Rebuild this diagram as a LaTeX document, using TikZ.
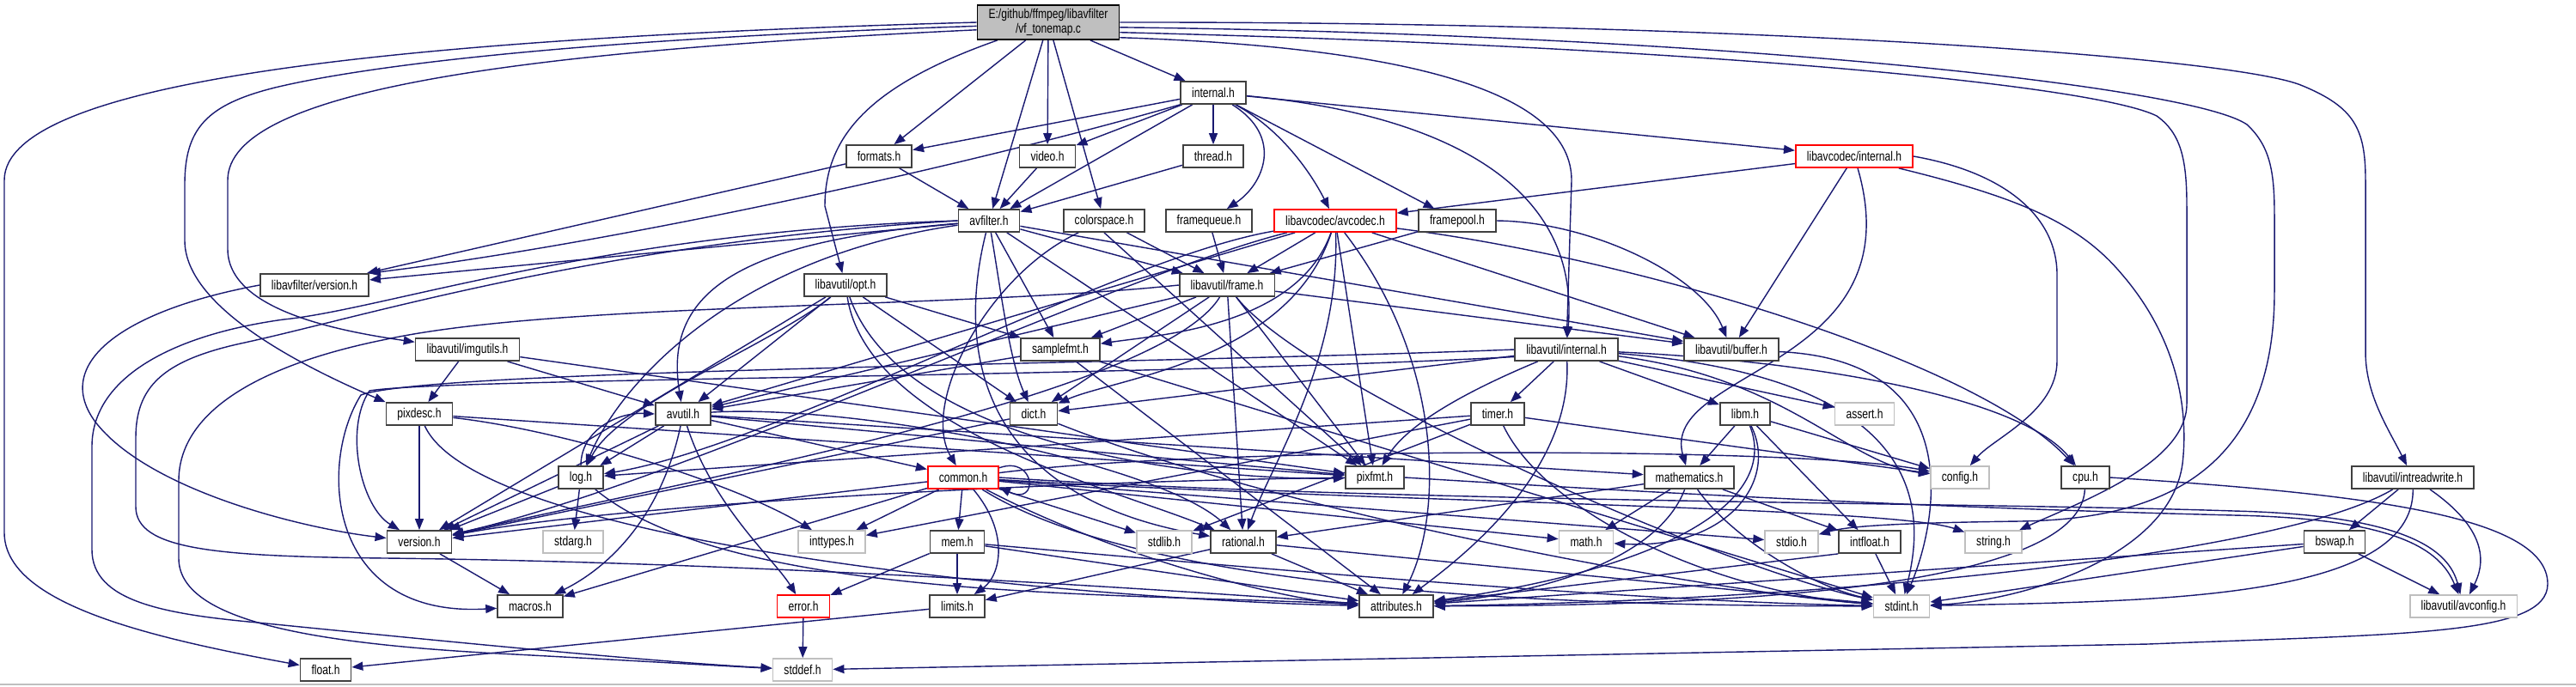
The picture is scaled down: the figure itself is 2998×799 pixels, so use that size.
\documentclass[tikz,border=0pt]{standalone}
\usepackage{fontspec}
\setmainfont{Liberation Sans}[FakeStretch=0.78]
\usepackage{tikz}
\usetikzlibrary{arrows.meta,backgrounds}
\usepackage{xcolor}
\definecolor{depblue}{HTML}{191970}
\definecolor{boxgrey}{HTML}{404040}
\definecolor{sysgrey}{HTML}{BFBFBF}
\definecolor{incred}{HTML}{FF0000}
\definecolor{srcfill}{HTML}{BFBFBF}

\begin{document}
\begin{tikzpicture}[x=0.01cm, y=-0.01cm,
  hdr/.style={draw=boxgrey, line width=0.5pt, fill=white, inner xsep=0.13cm,
    inner ysep=0pt, minimum height=0.26cm, font=\fontsize{4.41}{5}\selectfont},
  syshdr/.style={hdr, draw=sysgrey},
  redhdr/.style={hdr, draw=incred},
  srcfile/.style={hdr, draw=black, fill=srcfill, align=center, minimum height=0.40cm,
    font=\fontsize{4.41}{4.7}\selectfont},
  dep/.style={draw=depblue, line width=0.4pt, -{Triangle[length=0.13cm, width=0.1cm]}}]
\useasboundingbox (0,0) rectangle (2998,799);

% Bottom rule
\draw[sysgrey, line width=0.6pt] (0,797) -- (2998,797);

% Source file
\node[srcfile] (root) at (1220,26) {E:/github/ffmpeg/libavfilter\\/vf\_tonemap.c};

% libavfilter headers
\node[hdr] (lfint) at (1412,108) {internal.h};
\node[hdr] (formats) at (1023,182) {formats.h};
\node[hdr] (video) at (1219,182) {video.h};
\node[hdr] (thread) at (1412,182) {thread.h};
\node[redhdr] (lcint) at (2158,182) {libavcodec/internal.h};
\node[hdr] (avfilter) at (1151,257) {avfilter.h};
\node[hdr] (colorspace) at (1285,257) {colorspace.h};
\node[hdr] (framequeue) at (1407,257) {framequeue.h};
\node[redhdr] (avcodec) at (1554,257) {libavcodec/avcodec.h};
\node[hdr] (framepool) at (1696,257) {framepool.h};
\node[hdr] (lfver) at (366,332) {libavfilter/version.h};

% libavutil headers
\node[hdr] (opt) at (984,332) {libavutil/opt.h};
\node[hdr] (frame) at (1428,332) {libavutil/frame.h};
\node[hdr] (imgutils) at (544,407) {libavutil/imgutils.h};
\node[hdr] (samplefmt) at (1234,407) {samplefmt.h};
\node[hdr] (luint) at (1823,407) {libavutil/internal.h};
\node[hdr] (buffer) at (2015,407) {libavutil/buffer.h};
\node[hdr] (pixdesc) at (488,482) {pixdesc.h};
\node[hdr] (avutil) at (795,482) {avutil.h};
\node[hdr] (dict) at (1203,482) {dict.h};
\node[hdr] (timer) at (1743,482) {timer.h};
\node[hdr] (libm) at (2031,482) {libm.h};
\node[syshdr] (assert) at (2170,482) {assert.h};
\node[hdr] (log) at (676,556) {log.h};
\node[redhdr] (common) at (1121,556) {common.h};
\node[hdr] (pixfmt) at (1600,556) {pixfmt.h};
\node[hdr] (mathematics) at (1966,556) {mathematics.h};
\node[syshdr] (config) at (2281,556) {config.h};
\node[hdr] (cpu) at (2427,556) {cpu.h};
\node[hdr] (intreadwrite) at (2808,556) {libavutil/intreadwrite.h};
\node[hdr] (version) at (488,631) {version.h};
\node[syshdr] (stdarg) at (667,631) {stdarg.h};
\node[syshdr] (inttypes) at (968,631) {inttypes.h};
\node[hdr] (mem) at (1114,631) {mem.h};
\node[syshdr] (stdlib) at (1355,631) {stdlib.h};
\node[hdr] (rational) at (1447,631) {rational.h};
\node[syshdr] (math) at (1846,631) {math.h};
\node[syshdr] (stdio) at (2085,631) {stdio.h};
\node[hdr] (intfloat) at (2176,631) {intfloat.h};
\node[syshdr] (string) at (2320,631) {string.h};
\node[hdr] (bswap) at (2717,631) {bswap.h};
\node[hdr] (macros) at (617,706) {macros.h};
\node[redhdr] (error) at (935,706) {error.h};
\node[hdr] (limits) at (1114,706) {limits.h};
\node[hdr] (attributes) at (1625,706) {attributes.h};
\node[syshdr] (stdint) at (2213,706) {stdint.h};
\node[syshdr] (avconfig) at (2867,706) {libavutil/avconfig.h};
\node[hdr] (float) at (379,780) {float.h};
\node[syshdr] (stddef) at (934,780) {stddef.h};

\begin{scope}[on background layer]
% vf_tonemap.c
\draw[dep] (root.west) .. controls (450,45) and (5,95) .. (5,210) -- (5,620) .. controls (5,700) and (160,740) .. (float);
\draw[dep] (root.183) .. controls (600,48) and (390,85) .. (320,102) .. controls (240,122) and (215,150) .. (215,215) -- (215,280) .. controls (215,360) and (360,430) .. (pixdesc.north west);
\draw[dep] (root.186) .. controls (600,60) and (265,105) .. (265,210) -- (265,290) .. controls (265,360) and (390,385) .. (imgutils);
\draw[dep] (root) -- (formats);
\draw[dep] (root) -- (avfilter);
\draw[dep] (root) -- (video);
\draw[dep] (root) -- (colorspace);
\draw[dep] (root) -- (lfint);
\draw[dep] (root) .. controls (1010,100) and (960,160) .. (960,240) -- (opt);
\draw[dep] (root.348) .. controls (1650,55) and (1829,110) .. (1829,210) -- (luint);
\draw[dep] (root.east) .. controls (2000,25) and (2600,65) .. (2680,100) .. controls (2740,125) and (2753,150) .. (2753,210) -- (2753,410) .. controls (2753,460) and (2780,500) .. (intreadwrite);
\draw[dep] (root.356) .. controls (2000,40) and (2550,100) .. (2615,145) .. controls (2642,170) and (2647,200) .. (2647,250) -- (2647,340) .. controls (2647,560) and (2500,605) .. (2350,607) .. controls (2200,609) and (2150,613) .. (stdio);
\draw[dep] (root.352) .. controls (2000,55) and (2440,100) .. (2510,135) .. controls (2538,155) and (2545,185) .. (2545,240) -- (2545,470) .. controls (2545,540) and (2420,585) .. (string);

% internal.h
\draw[dep] (lfint) -- (formats);
\draw[dep] (lfint) -- (video);
\draw[dep] (lfint) -- (thread);
\draw[dep] (lfint) -- (avfilter);
\draw[dep] (lfint) .. controls (1495,160) and (1470,215) .. (framequeue);
\draw[dep] (lfint) .. controls (1490,150) and (1525,200) .. (avcodec);
\draw[dep] (lfint) -- (framepool);
\draw[dep] (lfint) -- (lcint);
\draw[dep] (lfint) .. controls (1650,130) and (1840,200) .. (luint);
\draw[dep] (lfint.south west) .. controls (1100,200) and (700,285) .. (lfver.north east);
\draw[dep] (formats) -- (avfilter);
\draw[dep] (formats) -- (lfver);
\draw[dep] (video) -- (avfilter);
\draw[dep] (thread) -- (avfilter);

% avfilter.h
\draw[dep] (avfilter) -- (lfver);
\draw[dep] (avfilter) .. controls (880,280) and (770,330) .. (avutil);
\draw[dep] (avfilter) .. controls (850,300) and (720,450) .. (log);
\draw[dep] (avfilter) -- (samplefmt);
\draw[dep] (avfilter) .. controls (1165,340) and (1175,420) .. (dict);
\draw[dep] (avfilter) -- (frame);
\draw[dep] (avfilter) -- (buffer);
\draw[dep] (avfilter) -- (pixfmt);
\draw[dep] (avfilter) .. controls (1110,420) and (1150,580) .. (rational);
\draw[dep] (avfilter.west) .. controls (700,270) and (450,360) .. (330,372) .. controls (200,390) and (107,440) .. (107,520) -- (107,640) .. controls (107,700) and (190,715) .. (300,725) .. controls (500,745) and (750,770) .. (stddef);
\draw[dep] (avfilter.west) .. controls (700,282) and (420,370) .. (280,400) .. controls (190,420) and (158,450) .. (158,510) -- (158,590) .. controls (158,640) and (250,648) .. (450,650) .. controls (900,655) and (1400,690) .. (attributes);

% colorspace.h, framequeue.h, framepool.h
\draw[dep] (colorspace) -- (frame);
\draw[dep] (colorspace) .. controls (1150,320) and (1070,470) .. (common);
\draw[dep] (colorspace.south) -- (pixfmt);
\draw[dep] (framequeue) -- (frame);
\draw[dep] (framepool) -- (frame);
\draw[dep] (framepool.east) .. controls (1850,258) and (1980,320) .. (buffer);

% libavcodec/internal.h
\draw[dep] (lcint) -- (avcodec);
\draw[dep] (lcint) -- (buffer);
\draw[dep] (lcint) .. controls (2230,430) and (1930,430) .. (mathematics);
\draw[dep] (lcint.east) .. controls (2330,200) and (2394,250) .. (2394,320) -- (2394,420) .. controls (2394,480) and (2320,510) .. (config);
\draw[dep] (lcint.345) .. controls (2350,230) and (2420,260) .. (2470,320) .. controls (2530,390) and (2548,470) .. (2540,540) .. controls (2525,650) and (2350,700) .. (stdint);

% libavcodec/avcodec.h
\draw[dep] (avcodec) -- (frame);
\draw[dep] (avcodec) .. controls (1510,380) and (1350,390) .. (samplefmt);
\draw[dep] (avcodec) -- (pixfmt);
\draw[dep] (avcodec) .. controls (1560,420) and (1480,540) .. (rational);
\draw[dep] (avcodec) .. controls (1680,420) and (1680,600) .. (attributes);
\draw[dep] (avcodec) -- (buffer);
\draw[dep] (avcodec) .. controls (1900,300) and (2300,420) .. (cpu);
\draw[dep] (avcodec) -- (avutil);
\draw[dep] (avcodec) .. controls (1500,420) and (1300,440) .. (dict);
\draw[dep] (avcodec) .. controls (1300,300) and (900,520) .. (log);
\draw[dep] (avcodec) .. controls (1300,320) and (800,560) .. (version);

% libavutil/opt.h
\draw[dep] (opt) -- (samplefmt);
\draw[dep] (opt) -- (avutil);
\draw[dep] (opt) -- (dict);
\draw[dep] (opt) .. controls (900,400) and (720,470) .. (log);
\draw[dep] (opt) .. controls (1050,520) and (1400,560) .. (pixfmt);
\draw[dep] (opt) .. controls (1010,500) and (1300,570) .. (rational);
\draw[dep] (opt) -- (version);

% libavutil/frame.h
\draw[dep] (frame) -- (samplefmt);
\draw[dep] (frame) -- (dict);
\draw[dep] (frame) -- (avutil);
\draw[dep] (frame) -- (buffer);
\draw[dep] (frame) -- (rational);
\draw[dep] (frame) -- (pixfmt);
\draw[dep] (frame) .. controls (1350,460) and (800,560) .. (version);
\draw[dep] (frame.west) .. controls (1100,360) and (650,352) .. (450,395) .. controls (300,425) and (208,480) .. (208,560) -- (208,650) .. controls (208,720) and (350,750) .. (600,762) .. controls (750,770) and (850,776) .. (stddef);
\draw[dep] (frame) .. controls (1520,450) and (2000,660) .. (stdint);

% samplefmt.h, dict.h
\draw[dep] (samplefmt) -- (avutil);
\draw[dep] (samplefmt) -- (attributes);
\draw[dep] (samplefmt) -- (stdint);
\draw[dep] (dict) -- (version);
\draw[dep] (dict) .. controls (1500,600) and (2000,690) .. (stdint);

% avutil.h
\draw[dep] (avutil) -- (common);
\draw[dep] (avutil) .. controls (830,590) and (900,650) .. (error);
\draw[dep] (avutil) .. controls (1000,470) and (1350,540) .. (rational);
\draw[dep] (avutil) -- (version);
\draw[dep] (avutil) .. controls (770,600) and (710,660) .. (macros);
\draw[dep] (avutil) -- (mathematics);
\draw[dep] (avutil) -- (log);
\draw[dep] (avutil) -- (pixfmt);

% log.h
\draw[dep] (log.north) .. controls (676,500) and (720,480) .. (avutil.west);
\draw[dep] (log) -- (stdarg);
\draw[dep] (log) .. controls (850,700) and (1300,690) .. (attributes);
\draw[dep] (log) -- (version);

% pixdesc.h, imgutils.h
\draw[dep] (pixdesc) -- (version);
\draw[dep] (pixdesc) .. controls (650,500) and (850,560) .. (inttypes);
\draw[dep] (pixdesc) .. controls (560,640) and (1300,700) .. (attributes);
\draw[dep] (pixdesc) -- (pixfmt);
\draw[dep] (imgutils) -- (pixdesc);
\draw[dep] (imgutils) -- (avutil);
\draw[dep] (imgutils) -- (pixfmt);

% version.h
\draw[dep] (lfver.west) .. controls (150,360) and (60,420) .. (110,490) .. controls (170,570) and (350,615) .. (version);
\draw[dep] (version) -- (macros);

% common.h
\draw[dep] (common.15) .. controls (1205,530) and (1210,590) .. (common.345);
\draw[dep] (common) -- (inttypes);
\draw[dep] (common) -- (mem);
\draw[dep] (common) .. controls (1175,620) and (1165,670) .. (limits);
\draw[dep] (common) -- (stdlib);
\draw[dep] (common) -- (macros);
\draw[dep] (common) .. controls (1300,650) and (1500,700) .. (attributes);
\draw[dep] (common) -- (version);
\draw[dep] (common.east) .. controls (1600,585) and (2300,585) .. (2600,595) .. controls (2800,600) and (2850,640) .. (avconfig);
\draw[dep] (common) .. controls (1400,520) and (2100,520) .. (config);
\draw[dep] (common) -- (math);
\draw[dep] (common) -- (stdio);
\draw[dep] (common) .. controls (1600,585) and (2200,590) .. (string);
\draw[dep] (common) .. controls (1350,700) and (1900,705) .. (stdint);

% mem.h, rational.h, error.h, limits.h
\draw[dep] (mem) -- (limits);
\draw[dep] (mem) -- (error);
\draw[dep] (mem) -- (attributes);
\draw[dep] (mem) .. controls (1500,665) and (1900,700) .. (stdint);
\draw[dep] (rational) -- (limits);
\draw[dep] (rational) -- (attributes);
\draw[dep] (rational) -- (stdint);
\draw[dep] (error) -- (stddef);
\draw[dep] (limits) -- (float);

% mathematics.h, intfloat.h
\draw[dep] (mathematics) -- (math);
\draw[dep] (mathematics) -- (rational);
\draw[dep] (mathematics) .. controls (1930,650) and (1800,690) .. (attributes);
\draw[dep] (mathematics) .. controls (2010,620) and (2100,680) .. (stdint);
\draw[dep] (mathematics) -- (intfloat);
\draw[dep] (intfloat.south west) -- (attributes);
\draw[dep] (intfloat) -- (stdint);

% libavutil/internal.h
\draw[dep] (luint) -- (timer);
\draw[dep] (luint) -- (libm);
\draw[dep] (luint) -- (assert);
\draw[dep] (luint) .. controls (2080,440) and (2150,540) .. (config);
\draw[dep] (luint) .. controls (1830,550) and (1700,650) .. (attributes);
\draw[dep] (luint) .. controls (2100,420) and (2350,460) .. (cpu);
\draw[dep] (luint) -- (dict);
\draw[dep] (luint) .. controls (1720,450) and (1640,490) .. (pixfmt);
\draw[dep] (luint) .. controls (2250,440) and (2240,600) .. (stdint);
\draw[dep] (luint.west) .. controls (1300,425) and (500,430) .. (420,460) .. controls (370,540) and (380,720) .. (macros);
\draw[dep] (luint.188) .. controls (1300,440) and (520,440) .. (430,455) .. controls (400,500) and (420,590) .. (version);

% timer.h, libm.h
\draw[dep] (timer) -- (log);
\draw[dep] (timer) -- (config);
\draw[dep] (timer) -- (stdlib);
\draw[dep] (timer) .. controls (1800,600) and (2000,690) .. (stdint);
\draw[dep] (timer) -- (inttypes);
\draw[dep] (libm) -- (mathematics);
\draw[dep] (libm) .. controls (2070,560) and (2010,640) .. (math);
\draw[dep] (libm) -- (config);
\draw[dep] (libm) .. controls (2070,580) and (1950,660) .. (attributes);
\draw[dep] (libm) -- (intfloat);

% cpu.h
\draw[dep] (cpu) .. controls (2420,700) and (1900,705) .. (attributes);
\draw[dep] (cpu.east) .. controls (2750,575) and (2965,600) .. (2965,680) .. controls (2965,740) and (2800,738) .. (2500,750) -- (stddef);

% libavutil/intreadwrite.h, bswap.h, buffer.h
\draw[dep] (intreadwrite) -- (bswap);
\draw[dep] (intreadwrite) .. controls (2900,620) and (2890,660) .. (avconfig);
\draw[dep] (intreadwrite) .. controls (2650,650) and (2100,700) .. (attributes);
\draw[dep] (intreadwrite) .. controls (2810,700) and (2500,700) .. (stdint);
\draw[dep] (bswap) -- (avconfig);
\draw[dep] (bswap) -- (attributes);
\draw[dep] (bswap) -- (stdint);
\draw[dep] (buffer) .. controls (2300,420) and (2250,620) .. (stdint);

% pixfmt.h
\draw[dep] (pixfmt.east) .. controls (2100,585) and (2400,595) .. (2600,600) .. controls (2790,604) and (2840,640) .. (avconfig);
\draw[dep] (pixfmt) .. controls (1200,560) and (700,590) .. (version);
\end{scope}
\end{tikzpicture}
\end{document}
